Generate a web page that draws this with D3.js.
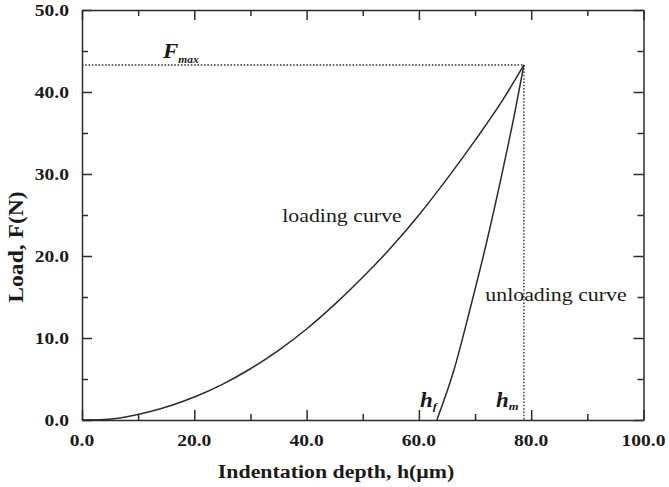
<!DOCTYPE html>
<html><head><meta charset="utf-8">
<script src="https://cdn.jsdelivr.net/npm/d3@7"></script>
<style>body{margin:0;background:#fff} text{font-family:"Liberation Serif","Times New Roman",serif}</style></head>
<body>
<script>
// ---- data ----
const xTicks = [0, 20, 40, 60, 80, 100];
const xMinor = [10, 30, 50, 70, 90];
const yTicks = [0, 10, 20, 30, 40, 50];
const yMinor = [5, 15, 25, 35, 45];
const loadH = [0, 4, 8, 12, 16, 20, 25, 30, 35, 40, 45, 50, 55, 60, 65, 70, 75, 78.7];
const loadF = [0, 0.05, 0.4, 1.0, 1.8, 2.8, 4.35, 6.25, 8.5, 11.1, 14.1, 17.4, 21.0, 25.0, 29.4, 34.1, 39.1, 43.3];
const unloadH = [63.2, 66.2, 69.1, 72.1, 75.1, 77.0, 78.7];
const unloadF = [0, 6.0, 13.5, 21.8, 31.0, 37.2, 43.3];
const Fmax = 43.3, hm = 78.7;

const W = 669, H = 487;
const x = d3.scaleLinear().domain([0, 100]).range([82, 643.5]);
const y = d3.scaleLinear().domain([0, 50]).range([420, 10]);
const ink = "#2b2b2b";
const serif = "Liberation Serif, Times New Roman, serif";
const SX = 1.15;

const svg = d3.select("body").append("svg").attr("width", W).attr("height", H);

// axes with inward ticks
function ax(gen, tr, vals, size) {
  const g = svg.append("g").attr("transform", tr)
    .call(gen.tickValues(vals).tickSizeInner(-size).tickSizeOuter(0).tickFormat(""));
  g.selectAll("path,line").attr("stroke", ink).attr("stroke-width", 1.5);
  return g;
}
ax(d3.axisBottom(x), `translate(0,${y(0)})`, xTicks, 10);
ax(d3.axisBottom(x), `translate(0,${y(0)})`, xMinor, 6).select(".domain").remove();
ax(d3.axisTop(x), `translate(0,${y(50)})`, xTicks, 10);
ax(d3.axisTop(x), `translate(0,${y(50)})`, xMinor, 6).select(".domain").remove();
ax(d3.axisLeft(y), `translate(${x(0)},0)`, yTicks, 10);
ax(d3.axisLeft(y), `translate(${x(0)},0)`, yMinor, 6).select(".domain").remove();
ax(d3.axisRight(y), `translate(${x(100)},0)`, yTicks, 10);
ax(d3.axisRight(y), `translate(${x(100)},0)`, yMinor, 6).select(".domain").remove();

function txt(str, tx, ty, opts = {}) {
  const t = svg.append("text")
    .attr("transform", `translate(${tx},${ty}) ${opts.rot ? `rotate(${opts.rot})` : ""} scale(${SX},1)`)
    .attr("text-anchor", opts.anchor || "start")
    .attr("font-family", serif)
    .attr("font-size", opts.size || 17)
    .attr("font-weight", opts.weight || "bold")
    .attr("font-style", opts.style || "normal")
    .attr("fill", "#1a1a1a")
    .text(str);
  return t;
}

// tick labels
xTicks.forEach(v => txt(d3.format(".1f")(v), x(v), 446, { anchor: "middle" }));
yTicks.forEach(v => txt(d3.format(".1f")(v), x(0) - 13, y(v) + 6, { anchor: "end" }));

// axis titles
txt("Indentation depth, h(\u03BCm)", 336, 478, { anchor: "middle", size: 19 });
txt("Load, F(N)", 23, 247, { anchor: "middle", rot: -90, size: 20.5 });

// dotted guide lines
svg.append("line").attr("x1", x(0)).attr("x2", x(hm)).attr("y1", y(Fmax)).attr("y2", y(Fmax))
  .attr("stroke", ink).attr("stroke-width", 1.4).attr("stroke-dasharray", "1.5,1.8");
svg.append("line").attr("x1", x(hm)).attr("x2", x(hm)).attr("y1", y(Fmax)).attr("y2", y(0))
  .attr("stroke", ink).attr("stroke-width", 1.4).attr("stroke-dasharray", "1.5,1.8");

// curves
const line = d3.line().x(d => x(d[0])).y(d => y(d[1])).curve(d3.curveMonotoneX);
svg.append("path").datum(loadH.map((h, i) => [h, loadF[i]])).attr("d", line)
  .attr("fill", "none").attr("stroke", ink).attr("stroke-width", 1.5);
svg.append("path").datum(unloadH.map((h, i) => [h, unloadF[i]])).attr("d", line)
  .attr("fill", "none").attr("stroke", ink).attr("stroke-width", 1.5);

// annotations
txt("loading curve", 342, 222, { anchor: "middle", size: 19, weight: "normal" });
txt("unloading curve", 556, 301, { anchor: "middle", size: 19, weight: "normal" });

const fm = txt("", 163, 58, { size: 20, style: "italic" });
fm.append("tspan").text("F");
fm.append("tspan").attr("font-size", 10).attr("dy", 5).text("max");

const hfT = txt("", 420, 407, { size: 20, style: "italic" });
hfT.append("tspan").text("h");
hfT.append("tspan").attr("font-size", 11).attr("dy", 3).text("f");

const hmT = txt("", 496, 407, { size: 20, style: "italic" });
hmT.append("tspan").text("h");
hmT.append("tspan").attr("font-size", 11).attr("dy", 3).text("m");
</script>
</body></html>
